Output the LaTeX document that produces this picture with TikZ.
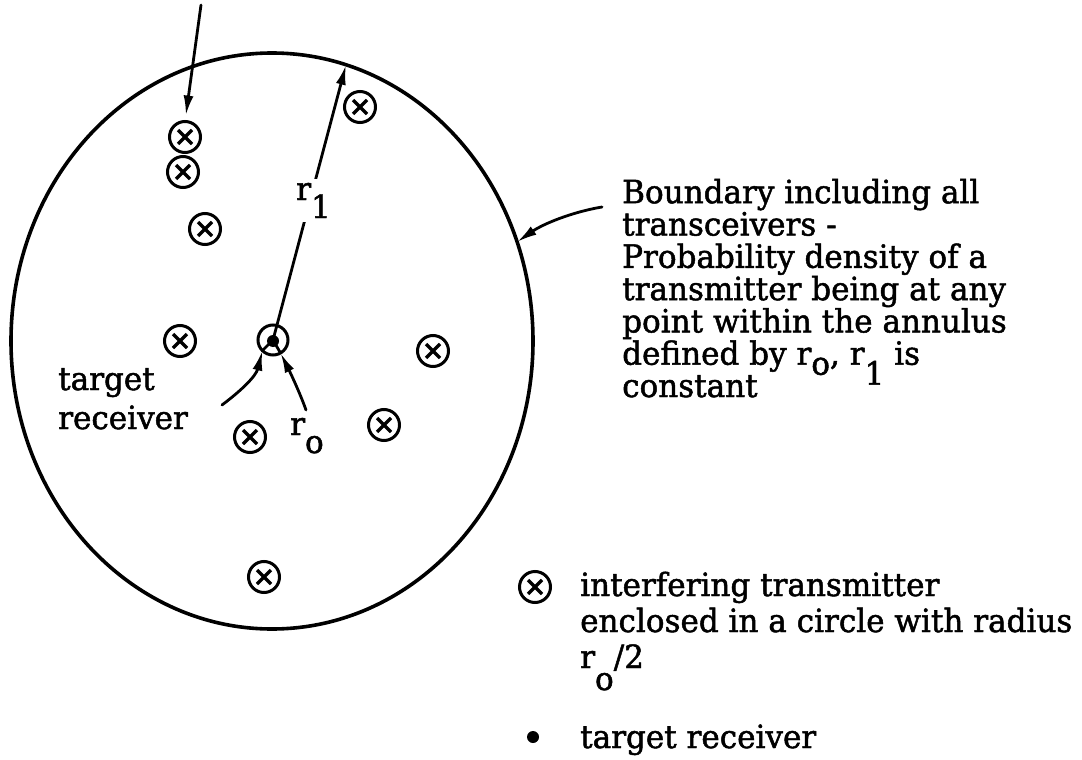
\documentclass[tikz,border=0pt]{standalone}
\usepackage{fontspec}
\setmainfont{DejaVu Serif}[FakeStretch=0.97,FakeBold=1.5]
\usetikzlibrary{arrows.meta,shapes.geometric}
\newcommand\dn[2]{\raisebox{-#1pt}[0pt][0pt]{#2}}
\tikzset{
  txf/.style={inner sep=0pt, anchor=base west, align=left, font=\fontsize{32}{32.3}\selectfont},
  xmit/.style={circle, draw, line width=3pt, minimum size=31pt, inner sep=0pt, outer sep=0pt,
    path picture={\draw[line width=3.4pt]
      ([shift={(-7pt,-7pt)}]path picture bounding box.center) -- ([shift={(7pt,7pt)}]path picture bounding box.center)
      ([shift={(-7pt,7pt)}]path picture bounding box.center) -- ([shift={(7pt,-7pt)}]path picture bounding box.center);}},
  conn/.style={line width=2.8pt, line cap=round},
  tip/.style={-{Latex[length=20pt,width=10pt]}},
  bndry/.style={ellipse, draw, line width=3.6pt, inner sep=0pt, outer sep=0pt}
}
\begin{document}
\begin{tikzpicture}[x=1pt,y=-1pt]
\useasboundingbox (0,0) rectangle (1082,760);
% boundary
\node[bndry, minimum width=522pt, minimum height=576pt] (bnd) at (272,341) {};
% interfering transmitters
\node[xmit] (t1) at (185,137) {};
\node[xmit] (t2) at (183,172) {};
\node[xmit] (t3) at (360,107) {};
\node[xmit] (t4) at (205,229) {};
\node[xmit] (t5) at (180,341) {};
\node[xmit] (t6) at (433,351) {};
\node[xmit] (t7) at (250,437) {};
\node[xmit] (t8) at (384,425) {};
\node[xmit] (t9) at (264,577) {};
% target receiver
\node[circle, draw, line width=3pt, minimum size=30pt, inner sep=0pt, outer sep=0pt] (rx) at (273,340) {};
\node[circle, fill, minimum size=12pt, inner sep=0pt] (rxd) at (273,341) {};
% r1 radius arrow
\draw[conn,tip] (rx.center) -- (bnd.75);
\node[fill=white, inner xsep=3pt, inner ysep=4pt, anchor=base west, font=\fontsize{32}{32.3}\selectfont, text height=17pt, text depth=18pt] (r1l) at (293,200) {r\dn{18}{1}};
% top-left arrow
\coordinate (tla) at (201,5);
\draw[conn,tip,shorten >=6pt] (tla) -- (t1.north);
% target receiver label and arrow
\node[txf, font=\fontsize{32}{39}\selectfont] (trl) at (58,429) {target\\receiver};
\coordinate (trs) at (222,405);
\draw[conn,tip] (trs) .. controls (242,390) and (256,376) .. (rx.225);
\draw[conn] (rx.225) -- (rx.center);
% r0 label and arrow
\node[txf] (r0l) at (290,435) {r\dn{18}{o}};
\coordinate (r0s) at (306,410);
\draw[conn,tip] (r0s) .. controls (300,393) and (290,372) .. (rx.300);
\draw[conn] (rx.300) -- (rx.center);
% boundary description
\node[txf] (bt) at (622,397) {Boundary including all\\transceivers -\\Probability density of a\\transmitter being at any\\point within the annulus\\defined by r\dn{10}{o}, r\dn{20}{1} is\\constant};
\coordinate (bs) at (602,207);
\draw[conn,tip] (bs) .. controls (572,212) and (543,224) .. (bnd.22);
% legend
\node[xmit] (lx) at (535,587) {};
\node[txf, font=\fontsize{32}{36}\selectfont] (lt) at (580,668) {interfering transmitter\\enclosed in a circle with radius\\r\dn{22}{o}/2};
\node[circle, fill, minimum size=12pt, inner sep=0pt] (ld) at (533,737) {};
\node[txf] (ldt) at (580,748) {target receiver};
\end{tikzpicture}
\end{document}
